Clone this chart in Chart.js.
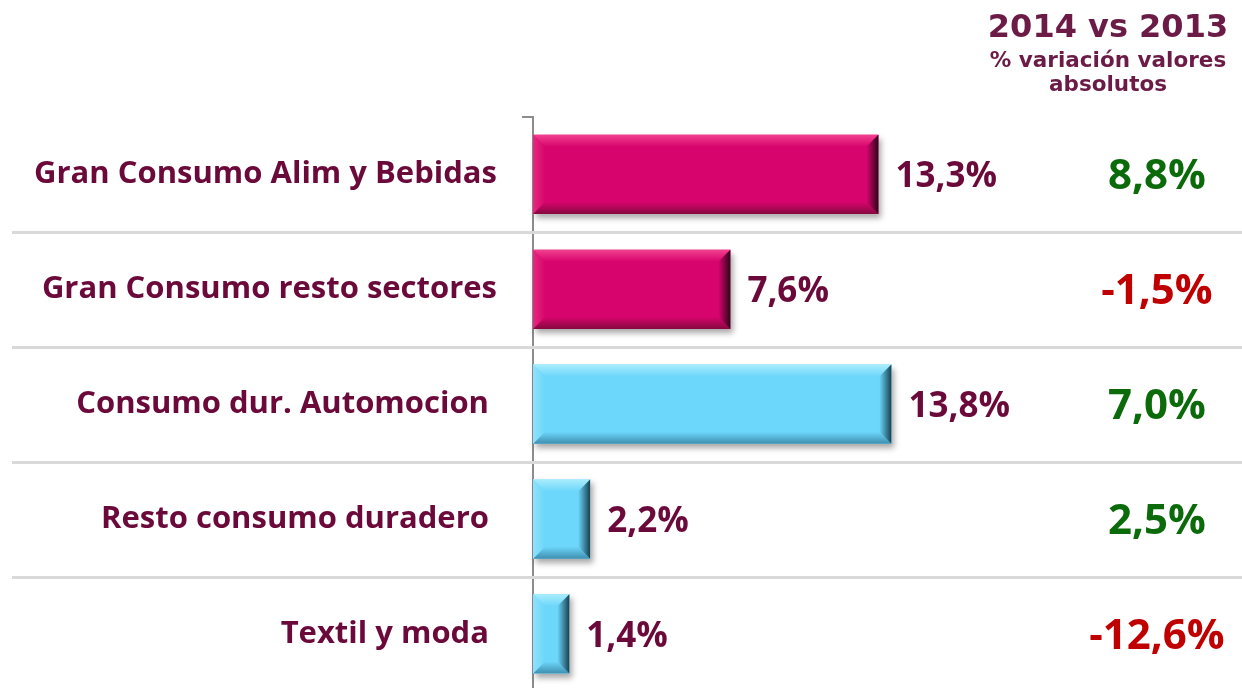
<!DOCTYPE html>
<html>
<head>
<meta charset="utf-8">
<script src="https://cdn.jsdelivr.net/npm/chart.js@4/dist/chart.umd.min.js"></script>
<style>
  html, body { margin: 0; padding: 0; background: #fff; overflow: hidden; height: 688px; }
</style>
</head>
<body>
<canvas id="grafico" width="1242" height="735"></canvas>
<script>
// datos
var sectores = [
  "Gran Consumo Alim y Bebidas",
  "Gran Consumo resto sectores",
  "Consumo dur. Automocion ",
  "Resto consumo duradero ",
  "Textil y moda "
];
var cuota = [13.3, 7.6, 13.8, 2.2, 1.4];
var variacion = [8.8, -1.5, 7.0, 2.5, -12.6];
var tipo = ["gc", "gc", "dur", "dur", "dur"];

var colores = {
  gc:  { base: "#d8046d", luz: "#f2418f", sombra: "#86083f", borde: "#2e0618", izq: "#e52a80" },
  dur: { base: "#6cd6fb", luz: "#a9edfd", sombra: "#3f8eae", borde: "#17404f", izq: "#8fe2fc" }
};
var granate = "#6b0a3a";

function fmt(v) {
  return v.toFixed(1).replace(".", ",") + "%";
}

// lineas separadoras, sombra y relieve de barras, textos
const fondo = {
  id: "fondo",
  beforeDatasetsDraw(chart) {
    const ctx = chart.ctx, y = chart.scales.y;
    const paso = y.getPixelForValue(1) - y.getPixelForValue(0);
    ctx.save();
    ctx.strokeStyle = "#d9d9d9";
    ctx.lineWidth = 3;
    for (let i = 1; i < sectores.length; i++) {
      const py = Math.round(y.getPixelForValue(i) - paso / 2) + 0.5;
      ctx.beginPath();
      ctx.moveTo(12, py);
      ctx.lineTo(chart.width, py);
      ctx.stroke();
    }
    chart.getDatasetMeta(0).data.forEach((b) => {
      const t = b.y - b.height / 2, h = b.height;
      ctx.shadowColor = "rgba(0,0,0,0.35)";
      ctx.shadowBlur = 6;
      ctx.shadowOffsetX = 3;
      ctx.shadowOffsetY = 4;
      ctx.fillStyle = "#ffffff";
      ctx.fillRect(b.base, t, b.x - b.base, h);
    });
    ctx.restore();
  },
  afterDatasetsDraw(chart) {
    const ctx = chart.ctx;
    const bv = 12;
    chart.getDatasetMeta(0).data.forEach((b, i) => {
      const c = colores[tipo[i]];
      const l = b.base, r = b.x, t = b.y - b.height / 2, bt = b.y + b.height / 2;
      const poly = (pts, fill) => {
        ctx.beginPath();
        ctx.moveTo(pts[0][0], pts[0][1]);
        for (let k = 1; k < pts.length; k++) ctx.lineTo(pts[k][0], pts[k][1]);
        ctx.closePath();
        ctx.fillStyle = fill;
        ctx.fill();
      };
      ctx.save();
      let g = ctx.createLinearGradient(0, t, 0, t + bv);
      g.addColorStop(0, c.luz); g.addColorStop(1, c.base);
      poly([[l, t], [r, t], [r - bv, t + bv], [l + bv, t + bv]], g);
      g = ctx.createLinearGradient(0, bt, 0, bt - bv);
      g.addColorStop(0, c.sombra); g.addColorStop(1, c.base);
      poly([[l, bt], [r, bt], [r - bv, bt - bv], [l + bv, bt - bv]], g);
      g = ctx.createLinearGradient(l, 0, l + bv, 0);
      g.addColorStop(0, c.izq); g.addColorStop(1, c.base);
      poly([[l, t], [l + bv, t + bv], [l + bv, bt - bv], [l, bt]], g);
      g = ctx.createLinearGradient(r, 0, r - bv, 0);
      g.addColorStop(0, c.borde); g.addColorStop(1, c.base);
      poly([[r, t], [r - bv, t + bv], [r - bv, bt - bv], [r, bt]], g);
      ctx.restore();
    });
  },
  afterDraw(chart) {
    const ctx = chart.ctx, y = chart.scales.y;
    ctx.save();
    ctx.textBaseline = "middle";
    chart.getDatasetMeta(0).data.forEach((b, i) => {
      ctx.font = "bold 35px 'Open Sans'";
      ctx.fillStyle = granate;
      ctx.textAlign = "left";
      ctx.fillText(fmt(cuota[i]), b.x + 17, b.y + 3);
      ctx.font = "bold 42px 'Open Sans'";
      ctx.fillStyle = variacion[i] < 0 ? "#c00000" : "#0b6b0b";
      ctx.textAlign = "center";
      ctx.fillText(fmt(variacion[i]), 1157, y.getPixelForValue(i) + 3);
    });
    // cabecera
    ctx.fillStyle = "#6b1b45";
    ctx.textAlign = "center";
    ctx.textBaseline = "alphabetic";
    ctx.font = "bold 32px 'DejaVu Sans'";
    ctx.fillText("2014 vs 2013", 1108, 37);
    ctx.font = "bold 21.5px 'DejaVu Sans'";
    ctx.fillText("% variación valores", 1108, 67);
    ctx.fillText("absolutos", 1108, 91);
    ctx.restore();
  }
};

new Chart(document.getElementById("grafico"), {
  type: "bar",
  data: {
    labels: sectores,
    datasets: [{
      data: cuota,
      backgroundColor: tipo.map((t) => colores[t].base),
      borderWidth: 0,
      barPercentage: 0.69,
      categoryPercentage: 1
    }]
  },
  options: {
    indexAxis: "y",
    responsive: false,
    animation: false,
    layout: { autoPadding: false, padding: { top: 117, left: 0, right: 0, bottom: 0 } },
    plugins: {
      legend: { display: false },
      tooltip: { enabled: false }
    },
    scales: {
      x: {
        display: false,
        min: 0,
        max: 27.3
      },
      y: {
        afterFit(s) { s.width = 533; },
        grid: {
          offset: true,
          drawOnChartArea: false,
          drawTicks: true,
          tickLength: 11,
          color: "#8c8c8c",
          lineWidth: 2
        },
        border: { display: true, color: "#8c8c8c", width: 2 },
        ticks: {
          padding: 25,
          color: granate,
          font: { family: "'Open Sans'", weight: "bold", size: 31 }
        }
      }
    }
  },
  plugins: [fondo]
});
</script>
</body>
</html>
